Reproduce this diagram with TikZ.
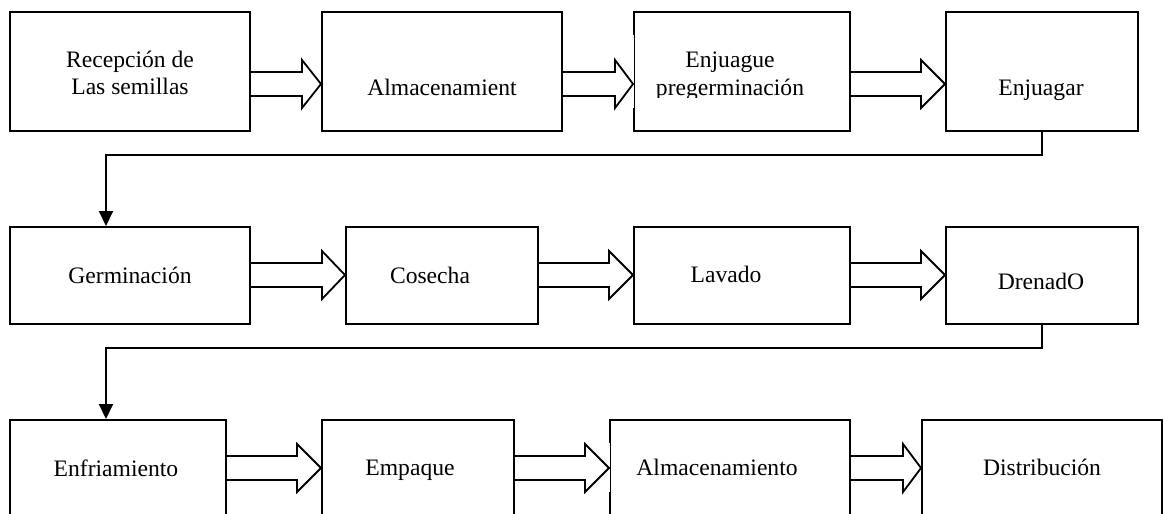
\documentclass[tikz,border=0pt]{standalone}
\usepackage{fontspec}
\setmainfont{Liberation Serif}
\usetikzlibrary{fit,calc,arrows.meta}
\tikzset{
  box/.style={draw=black, line width=2pt, inner sep=0pt, fill=none},
  txt/.style={font=\fontsize{23.6}{27}\selectfont, inner sep=0pt, anchor=base},
  blk/.style={draw=black, line width=1.8pt, fill=white, line join=miter},
  conn/.style={draw=black, line width=2pt, -{Triangle[width=14pt,length=15pt]}},
}
% block arrow: from node, to node, centre y (px), head length (px)
\newcommand\barrow[4]{%
  \draw[blk] let \p1=(#1.east), \p2=(#2.west) in
    (\x1,{-(#3-12)*1pt}) -- ({\x2-#4*1pt},{-(#3-12)*1pt}) --
    ({\x2-#4*1pt},{-(#3-24)*1pt}) -- (\x2,{-#3*1pt}) --
    ({\x2-#4*1pt},{-(#3+24)*1pt}) -- ({\x2-#4*1pt},{-(#3+12)*1pt}) --
    (\x1,{-(#3+12)*1pt});}
\begin{document}
\begin{tikzpicture}[x=1pt,y=-1pt]
\useasboundingbox (0,0) rectangle (1163,514);
\clip (0,0) rectangle (1163,514);
\fill[white] (0,0) rectangle (1163,514);
% row 1
\node[box, fit={(10,12) (250,131)}] (b1) {};
\node[box, fit={(322,12) (562,131)}] (b2) {};
\node[box, fit={(634,12) (850,131)}] (b3) {};
\node[box, fit={(946,12) (1138,131)}] (b4) {};
% row 2
\node[box, fit={(10,227) (250,324)}] (b5) {};
\node[box, fit={(346,227) (538,324)}] (b6) {};
\node[box, fit={(634,227) (850,324)}] (b7) {};
\node[box, fit={(946,227) (1138,324)}] (b8) {};
% row 3
\node[box, fit={(10,420) (226,540)}] (b9) {};
\node[box, fit={(322,420) (514,540)}] (b10) {};
\node[box, fit={(610,420) (850,540)}] (b11) {};
\node[box, fit={(922,420) (1162,540)}] (b12) {};
% thinner border parts where text frames overlap
\draw[white, line width=1pt] (633,35) -- (633,108);
\draw[white, line width=1pt] (609,443) -- (609,492);
% texts
\node[txt] (t1a) at (130,67) {Recepción de};
\node[txt] (t1b) at (130,94) {Las semillas};
\node[txt] (t2) at (442,95) {Almacenamient};
\node[txt] (t3a) at (730,67) {Enjuague};
\begin{scope}
  \clip (634,12) rectangle (850,97);
  \node[txt] (t3b) at (730,95) {pregerminación};
\end{scope}
\node[txt] (t4) at (1041,95) {Enjuagar};
\node[txt] (t5) at (130,283) {Germinación};
\node[txt] (t6) at (430,283) {Cosecha};
\node[txt] (t7) at (726,282) {Lavado};
\node[txt] (t8) at (1041,289) {DrenadO};
\node[txt] (t9) at (116,476) {Enfriamiento};
\node[txt] (t10) at (410,475) {Empaque};
\node[txt] (t11) at (717,475) {Almacenamiento};
\node[txt] (t12) at (1042,475) {Distribución};
% block arrows
\barrow{b1}{b2}{84}{19}
\barrow{b2}{b3}{84}{18}
\barrow{b3}{b4}{84}{24}
\barrow{b5}{b6}{275}{23}
\barrow{b6}{b7}{275}{24}
\barrow{b7}{b8}{275}{24}
\barrow{b9}{b10}{468}{24}
\barrow{b10}{b11}{468}{24}
\barrow{b11}{b12}{468}{18}
% connectors between rows
\coordinate (k1) at (106,155);
\coordinate (k2) at (106,348);
\draw[conn] (b4.south) |- (k1) -- (k1 |- b5.north);
\draw[conn] (b8.south) |- (k2) -- (k2 |- b9.north);
\end{tikzpicture}
\end{document}
